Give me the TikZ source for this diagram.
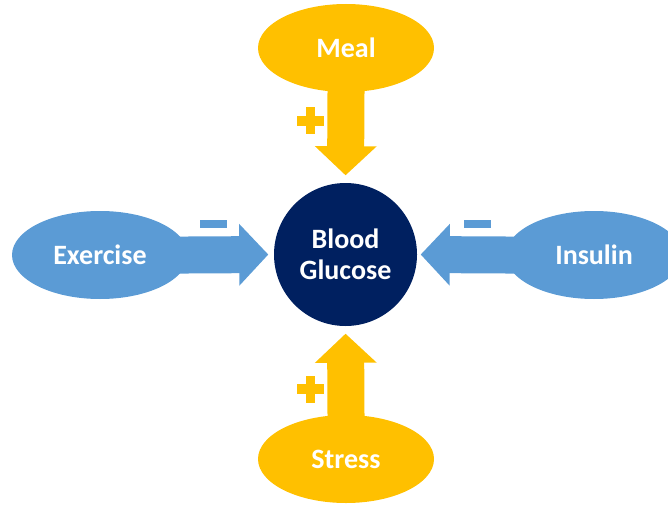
\documentclass[tikz,border=0pt]{standalone}
\usepackage{fontspec}
\setmainfont{Carlito}
\usetikzlibrary{arrows.meta,shapes.geometric,backgrounds}
\definecolor{bgyellow}{RGB}{255,192,0}
\definecolor{bgblue}{RGB}{91,155,213}
\definecolor{bgnavy}{RGB}{0,32,96}
\begin{document}
\begin{tikzpicture}[x=1pt,y=-1pt,
  factor/.style={ellipse,minimum width=176pt,minimum height=88pt,inner sep=0pt,
    text=white,font=\fontsize{28}{31}\selectfont\bfseries},
  effect/.style={line width=37pt,-{Triangle[length=29pt,width=60pt]}},
  ]
\useasboundingbox (0,0) rectangle (668,505);
% centre
\node[circle,fill=bgnavy,minimum size=143pt,inner sep=0pt,align=center,text=white,
  font=\fontsize{28}{31}\selectfont\bfseries] (bg) at (345.5,254.5) {Blood\\Glucose};
% the four factors
\node[factor,fill=bgyellow] (meal) at (346,48) {Meal};
\node[factor,fill=bgyellow] (stress) at (346,459) {Stress};
\node[factor,fill=bgblue] (exercise) at (100,255) {Exercise};
\node[factor,fill=bgblue] (insulin) at (594,255) {Insulin};
\begin{scope}[on background layer]
\draw[effect,bgyellow,shorten <=-4pt,shorten >=7.5pt] (meal.south) -- (bg.north);
\draw[effect,bgyellow,shorten <=-4pt,shorten >=7.5pt] (stress.north) -- (bg.south);
\draw[effect,bgblue,shorten <=-12pt,shorten >=5.5pt] (exercise.east) -- (bg.west);
\draw[effect,bgblue,shorten <=-12pt,shorten >=3.5pt] (insulin.west) -- (bg.east);
\end{scope}
% signs
\coordinate (plusmeal) at (310.5,121);
\coordinate (plusstress) at (310.5,389);
\coordinate (minusexercise) at (213.5,224);
\coordinate (minusinsulin) at (477.5,224);
\fill[bgyellow] (plusmeal) ++(-13.5,-4.75) rectangle ++(27,9.5);
\fill[bgyellow] (plusmeal) ++(-4.75,-13.5) rectangle ++(9.5,27);
\fill[bgyellow] (plusstress) ++(-13.5,-4.75) rectangle ++(27,9.5);
\fill[bgyellow] (plusstress) ++(-4.75,-13.5) rectangle ++(9.5,27);
\fill[bgblue] (minusexercise) ++(-13.5,-4) rectangle ++(27,8);
\fill[bgblue] (minusinsulin) ++(-13.5,-4) rectangle ++(27,8);
\end{tikzpicture}
\end{document}
